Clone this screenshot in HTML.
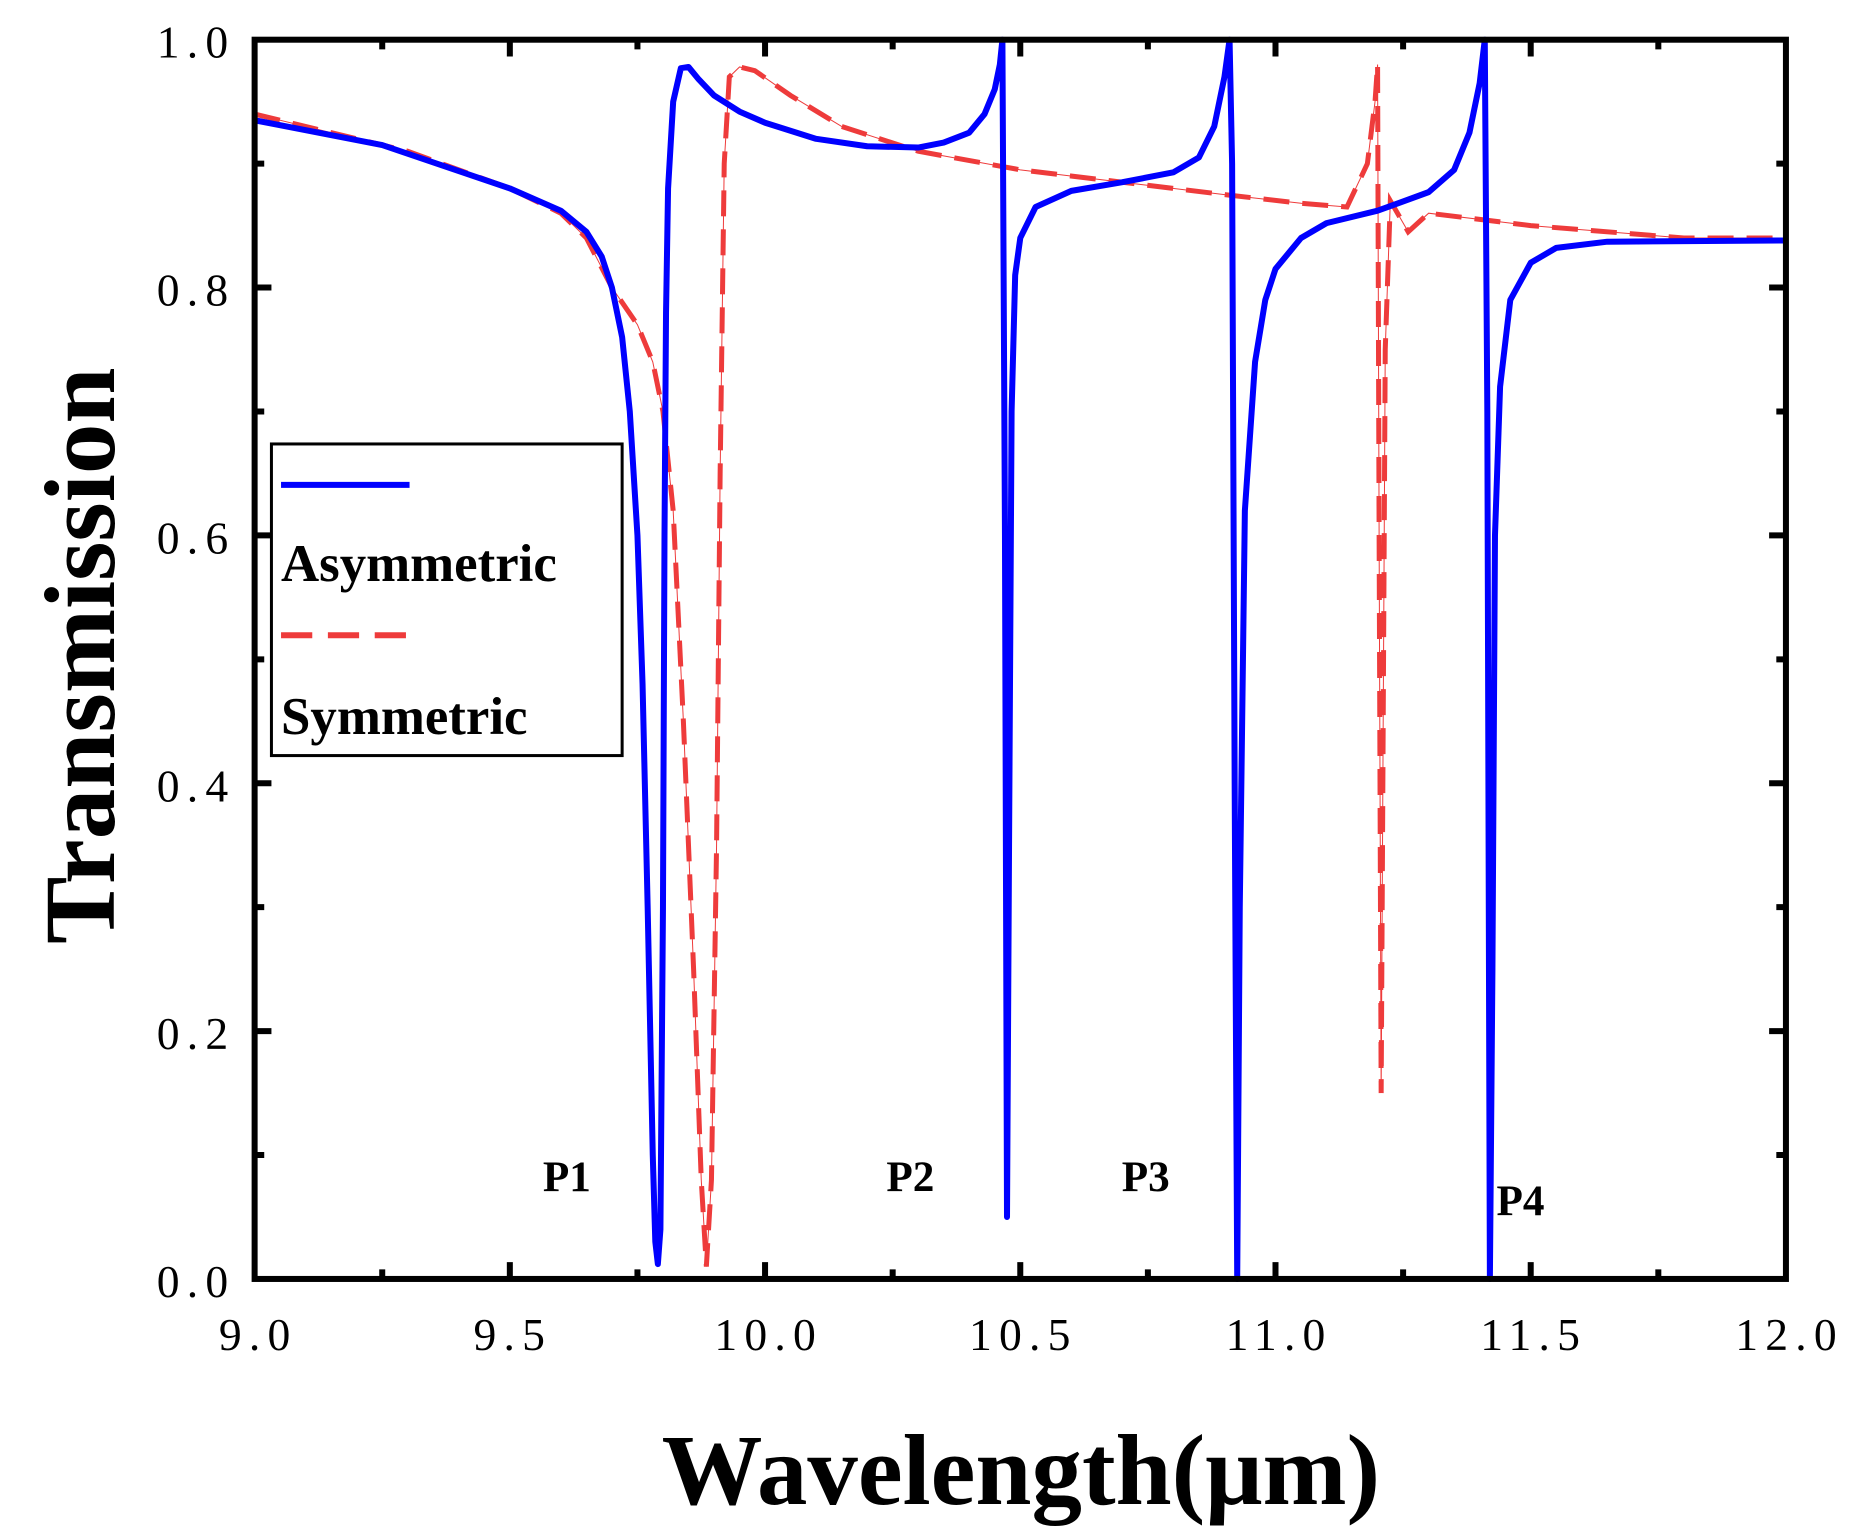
<!DOCTYPE html>
<html><head><meta charset="utf-8"><style>html,body{margin:0;padding:0;background:#fff}svg{display:block}</style></head>
<body>
<svg width="1864" height="1528" viewBox="0 0 1552 1270" preserveAspectRatio="none" xmlns="http://www.w3.org/2000/svg">
<rect width="1552" height="1270" fill="#fff"/>
<g transform="translate(212,1063) scale(425,-1030) translate(-9,0)" fill="none">
<path vector-effect="non-scaling-stroke" stroke="#ee3b3b" stroke-width="1" d="M9,0.94 L9.3,0.91 9.5,0.88 9.6,0.86 9.65,0.84 9.7,0.80 9.75,0.77 9.78,0.74 9.80,0.70 9.82,0.62 9.84,0.45 9.86,0.25 9.875,0.08 9.885,0.01 9.895,0.08 9.905,0.35 9.912,0.65 9.92,0.9 9.93,0.97 9.95,0.978 9.98,0.975 10.05,0.955 10.15,0.93 10.3,0.91 10.5,0.895 10.7,0.885 10.9,0.875 11.05,0.868 11.14,0.865 11.18,0.9 11.195,0.95 11.2,0.98 11.203,0.6 11.207,0.15 11.215,0.75 11.225,0.87 11.26,0.845 11.3,0.86 11.5,0.85 11.8,0.84 12,0.84"/>
<path vector-effect="non-scaling-stroke" stroke="#ee3b3b" stroke-width="5" stroke-dasharray="26 13" d="M9,0.94 L9.3,0.91 9.5,0.88 9.6,0.86 9.65,0.84 9.7,0.80 9.75,0.77 9.78,0.74 9.80,0.70 9.82,0.62 9.84,0.45 9.86,0.25 9.875,0.08 9.885,0.01 9.895,0.08 9.905,0.35 9.912,0.65 9.92,0.9 9.93,0.97 9.95,0.978 9.98,0.975 10.05,0.955 10.15,0.93 10.3,0.91 10.5,0.895 10.7,0.885 10.9,0.875 11.05,0.868 11.14,0.865 11.18,0.9 11.195,0.95 11.2,0.98 11.203,0.6 11.207,0.15 11.215,0.75 11.225,0.87 11.26,0.845 11.3,0.86 11.5,0.85 11.8,0.84 12,0.84"/>
<path vector-effect="non-scaling-stroke" stroke="#0000ff" stroke-width="6" stroke-linejoin="round" d="M9,0.935 L9.25,0.915 9.5,0.88 9.6,0.862 9.65,0.845 9.68,0.825 9.7,0.80 9.72,0.76 9.735,0.70 9.75,0.60 9.76,0.48 9.77,0.30 9.78,0.10 9.785,0.03 9.79,0.012 9.795,0.04 9.80,0.3 9.803,0.6 9.806,0.78 9.81,0.88 9.82,0.95 9.835,0.977 9.85,0.978 9.87,0.968 9.9,0.955 9.95,0.942 10.0,0.933 10.1,0.92 10.2,0.914 10.3,0.913 10.35,0.917 10.4,0.925 10.43,0.94 10.45,0.96 10.46,0.98 10.465,1.0 10.47,0.6 10.474,0.05 10.478,0.35 10.483,0.7 10.49,0.81 10.5,0.84 10.53,0.865 10.6,0.878 10.7,0.885 10.8,0.893 10.85,0.905 10.88,0.93 10.9,0.97 10.91,1.0 10.915,0.9 10.92,0.4 10.925,0.0 10.93,0.3 10.94,0.62 10.96,0.74 10.98,0.79 11.0,0.815 11.05,0.84 11.1,0.852 11.2,0.862 11.3,0.877 11.35,0.895 11.38,0.925 11.4,0.965 11.41,1.0 11.415,0.7 11.42,0.0 11.425,0.25 11.43,0.6 11.44,0.72 11.46,0.79 11.5,0.82 11.55,0.832 11.65,0.837 12,0.838"/>
</g>
<g stroke="#000" stroke-width="5" fill="none">
<rect x="212" y="33" width="1275" height="1030"/>
<path d="M424.5,1063v-14M637,1063v-14M849.5,1063v-14M1062,1063v-14M1274.5,1063v-14
M318.25,1063v-8M530.75,1063v-8M743.25,1063v-8M955.75,1063v-8M1168.25,1063v-8M1380.75,1063v-8
M424.5,33v14M637,33v14M849.5,33v14M1062,33v14M1274.5,33v14
M318.25,33v8M530.75,33v8M743.25,33v8M955.75,33v8M1168.25,33v8M1380.75,33v8
M212,857h14M212,651h14M212,445h14M212,239h14M212,960h8M212,754h8M212,548h8M212,342h8M212,136h8
M1487,857h-14M1487,651h-14M1487,445h-14M1487,239h-14M1487,960h-8M1487,754h-8M1487,548h-8M1487,342h-8M1487,136h-8"/>
</g>
<g font-family="Liberation Serif, serif" font-size="38" fill="#000" text-anchor="end" letter-spacing="6">
<text x="196" y="1078">0.0</text><text x="196" y="872">0.2</text><text x="196" y="666">0.4</text><text x="196" y="460">0.6</text><text x="196" y="254">0.8</text><text x="196" y="48">1.0</text>
</g>
<g font-family="Liberation Serif, serif" font-size="38" fill="#000" text-anchor="middle" letter-spacing="6">
<text x="215" y="1122">9.0</text><text x="427" y="1122">9.5</text><text x="640" y="1122">10.0</text><text x="852" y="1122">10.5</text><text x="1065" y="1122">11.0</text><text x="1277" y="1122">11.5</text><text x="1490" y="1122">12.0</text>
</g>
<g font-family="Liberation Serif, serif" font-weight="bold" font-size="36" fill="#000">
<text x="452" y="990">P1</text><text x="738" y="990">P2</text><text x="934" y="990">P3</text><text x="1246" y="1010">P4</text>
</g>
<rect x="226" y="369" width="292" height="259" fill="#fff" stroke="#000" stroke-width="2.5"/>
<line x1="234" y1="403" x2="341" y2="403" stroke="#0000ff" stroke-width="5"/>
<line x1="234" y1="528" x2="341" y2="528" stroke="#ee3b3b" stroke-width="5" stroke-dasharray="26 13"/>
<g font-family="Liberation Serif, serif" font-weight="bold" font-size="44" fill="#000">
<text x="234" y="483">Asymmetric</text><text x="234" y="610">Symmetric</text>
</g>
<text x="850" y="1250" text-anchor="middle" font-family="Liberation Serif, serif" font-weight="bold" font-size="84">Wavelength(μm)</text>
<text transform="translate(95,545) rotate(-90)" text-anchor="middle" font-family="Liberation Serif, serif" font-weight="bold" font-size="84">Transmission</text>
</svg>
</body></html>
